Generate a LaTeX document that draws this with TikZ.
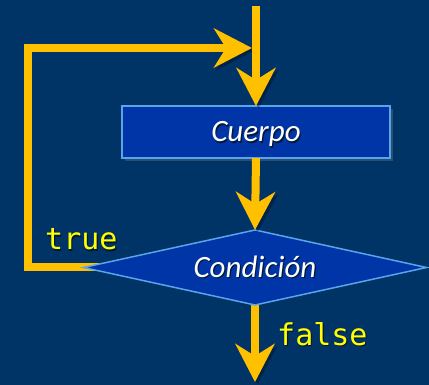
\documentclass[tikz,border=0pt]{standalone}
\usepackage{fontspec}
\setmainfont{Carlito}
\setmonofont{DejaVu Sans Mono}
\usetikzlibrary{arrows.meta,shapes.geometric,shadows,backgrounds}
\definecolor{bgc}{HTML}{003366}
\definecolor{flowc}{HTML}{FFC000}
\definecolor{boxfill}{HTML}{0035A8}
\definecolor{boxline}{HTML}{5AA5EA}
\definecolor{labelc}{HTML}{FFFF00}
\definecolor{txtshadow}{HTML}{001833}
\newcommand\shtxt[1]{\makebox[0pt][l]{\kern1.2pt\raisebox{-1.2pt}{\color{txtshadow}#1}}#1}
\begin{document}
\begin{tikzpicture}[x=1pt,y=-1pt,
  flow/.style={draw=flowc, line width=8pt, line join=miter,
    -{Stealth[length=38pt,width=39pt,inset=12pt]},
    preaction={draw=black, opacity=.3, transform canvas={shift={(2.5pt,-2.5pt)}}}},
  shapetext/.style={text=white, font=\fontsize{31}{36}\selectfont\itshape,
    text height=23pt, text depth=3pt, inner sep=0pt, outer sep=0pt},
  boxst/.style={shapetext, draw=boxline, fill=boxfill, line width=1.5pt,
    minimum width=268pt, minimum height=52pt,
    drop shadow={shadow xshift=3pt, shadow yshift=-3pt, opacity=.35}},
  condst/.style={shapetext, diamond, aspect=4.573, draw=boxline, fill=boxfill, line width=1.5pt,
    minimum width=343pt, minimum height=75pt},
  lbl/.style={text=labelc, font=\ttfamily\fontsize{30}{34}\selectfont, inner sep=0pt, anchor=base west}
]
\useasboundingbox (0,0) rectangle (429,385);

\coordinate (start) at (256,6);
\coordinate (ltop) at (28,48);
\coordinate (lend) at (252,48);
\coordinate (fin) at (255,382);

\node[boxst] (body) at (256,132) {\shtxt{Cuerpo}};
\node[condst] (cond) at (255,267.5) {\shtxt{Condición}};

\node[lbl] (truel) at (45,250) {\shtxt{true}};
\node[lbl] (falsel) at (277,345) {\shtxt{false}};

\begin{scope}[on background layer]
\fill[bgc] (0,0) rectangle (429,385);
\draw[flow] ([xshift=15pt]cond.west) -- (cond.west -| ltop) -- (ltop) -- (lend);
\draw[flow] (cond.south) -- (fin);
\end{scope}
\draw[flow] (start) -- (body.north);
\draw[flow] (body.south) -- (cond.north);
\end{tikzpicture}
\end{document}
